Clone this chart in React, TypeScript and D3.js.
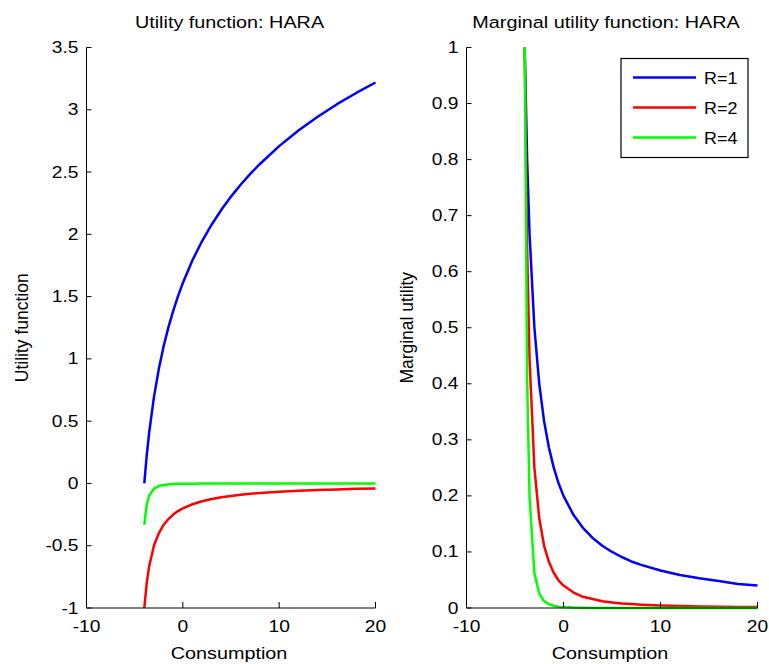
import React from "react";
import * as d3 from "d3";

// Consumption grid
const cons = [-4, -3.75, -3.5, -3, -2.5, -2, -1.5, -1, -0.5, 0, 1, 2, 3, 4, 5, 6, 7, 8, 10, 12, 14, 16, 18, 20];

// Utility function values
const utilR1 = [0, 0.223, 0.405, 0.693, 0.916, 1.099, 1.253, 1.386, 1.504, 1.609, 1.792, 1.946, 2.079, 2.197, 2.303, 2.398, 2.485, 2.565, 2.708, 2.833, 2.944, 3.045, 3.135, 3.219];
const utilR2 = [-1, -0.8, -0.667, -0.5, -0.4, -0.333, -0.286, -0.25, -0.222, -0.2, -0.167, -0.143, -0.125, -0.111, -0.1, -0.091, -0.083, -0.077, -0.067, -0.059, -0.053, -0.048, -0.043, -0.04];
const utilR4 = [-0.333, -0.171, -0.099, -0.042, -0.021, -0.012, -0.008, -0.005, -0.003, -0.003, -0.0015, -0.001, -0.0007, -0.0005, -0.0003, -0.0002, -0.0002, -0.0001, -0.0001, 0, 0, 0, 0, 0];

// Marginal utility values
const margR1 = [1, 0.8, 0.667, 0.5, 0.4, 0.333, 0.286, 0.25, 0.222, 0.2, 0.167, 0.143, 0.125, 0.111, 0.1, 0.091, 0.083, 0.077, 0.067, 0.059, 0.053, 0.048, 0.043, 0.04];
const margR2 = [1, 0.64, 0.444, 0.25, 0.16, 0.111, 0.082, 0.0625, 0.049, 0.04, 0.028, 0.02, 0.016, 0.012, 0.01, 0.008, 0.007, 0.006, 0.0044, 0.0035, 0.0028, 0.0023, 0.0019, 0.0016];
const margR4 = [1, 0.41, 0.198, 0.0625, 0.0256, 0.0123, 0.0067, 0.0039, 0.0024, 0.0016, 0.0008, 0.0004, 0.0002, 0.0001, 0.0001, 0, 0, 0, 0, 0, 0, 0, 0, 0];

const seriesNames = ["R=1", "R=2", "R=4"];
const seriesColors = ["#0000ff", "#ff0000", "#00ff00"];

const xTicks = [-10, 0, 10, 20];
const yTicksLeft = [-1, -0.5, 0, 0.5, 1, 1.5, 2, 2.5, 3, 3.5];
const yTicksRight = [0, 0.1, 0.2, 0.3, 0.4, 0.5, 0.6, 0.7, 0.8, 0.9, 1];

const FONT = "'Liberation Sans', Arial, sans-serif";
const SX = 1.2;

function Txt({ x, y, size, anchor, sx, children }: { x: number; y: number; size: number; anchor?: string; sx?: number; children: React.ReactNode }) {
  return (
    <text
      transform={`translate(${x},${y}) scale(${sx ?? SX},1)`}
      textAnchor={anchor || "start"}
      fontSize={size}
      fontFamily={FONT}
      fill="#000"
    >
      {children}
    </text>
  );
}

type PanelProps = {
  x0: number;
  x1: number;
  yDomain: [number, number];
  yTicks: number[];
  series: number[][];
  title: string;
  titleX: number;
  ylabel: string;
  ylabelX: number;
  legend?: boolean;
};

function Panel({ x0, x1, yDomain, yTicks, series, title, titleX, ylabel, ylabelX, legend }: PanelProps) {
  const top = 47.5;
  const bottom = 608;
  const xs = d3.scaleLinear().domain([-10, 20]).range([x0, x1]);
  const ys = d3.scaleLinear().domain(yDomain).range([bottom, top]);
  const line = d3
    .line<[number, number]>()
    .x((d) => xs(d[0]))
    .y((d) => ys(d[1]));
  const fmt = (v: number) => String(v);
  return (
    <g>
      {series.map((vals, i) => (
        <path
          key={i}
          d={line(cons.map((c, j) => [c, vals[j]] as [number, number])) || ""}
          fill="none"
          stroke={seriesColors[i]}
          strokeWidth={2.5}
          strokeLinejoin="round"
        />
      ))}
      {/* axes */}
      <line x1={x0} x2={x0} y1={top} y2={bottom} stroke="#000" strokeWidth={1} />
      <line x1={x0} x2={x1} y1={bottom} y2={bottom} stroke="#000" strokeWidth={1} />
      {yTicks.map((t) => (
        <g key={"y" + t}>
          <line x1={x0} x2={x0 + 5} y1={ys(t)} y2={ys(t)} stroke="#000" strokeWidth={1} />
          <Txt x={x0 - 8} y={ys(t) + 5.5} size={16} anchor="end">
            {fmt(t)}
          </Txt>
        </g>
      ))}
      {xTicks.map((t) => (
        <g key={"x" + t}>
          <line x1={xs(t)} x2={xs(t)} y1={bottom} y2={bottom - 6} stroke="#000" strokeWidth={1} />
          <Txt x={xs(t)} y={631.5} size={16} anchor="middle">
            {fmt(t)}
          </Txt>
        </g>
      ))}
      <Txt x={(x0 + x1) / 2 - 2} y={659} size={16.5} anchor="middle">
        Consumption
      </Txt>
      <Txt x={titleX} y={28} size={16.5} anchor="middle">
        {title}
      </Txt>
      <text
        transform={`translate(${ylabelX},${(top + bottom) / 2}) rotate(-90) scale(1,1.1)`}
        textAnchor="middle"
        fontSize={17.5}
        fontFamily={FONT}
        fill="#000"
      >
        {ylabel}
      </text>
      {legend && (
        <g>
          <rect x={621} y={58.5} width={127} height={99} fill="#fff" stroke="#000" strokeWidth={1.2} />
          {seriesNames.map((n, i) => (
            <g key={n}>
              <line x1={633} x2={696} y1={77.5 + i * 30} y2={77.5 + i * 30} stroke={seriesColors[i]} strokeWidth={2.5} />
              <Txt x={704} y={83.5 + i * 30} size={16} sx={1.12}>
                {n}
              </Txt>
            </g>
          ))}
        </g>
      )}
    </g>
  );
}

export default function App() {
  return (
    <svg width={769} height={664} style={{ display: "block", position: "absolute", left: 0, top: 0, background: "#fff" }}>
      <rect x={0} y={0} width={769} height={664} fill="#fff" />
      <Panel
        x0={86.5}
        x1={375.5}
        yDomain={[-1, 3.5]}
        yTicks={yTicksLeft}
        series={[utilR1, utilR2, utilR4]}
        title="Utility function: HARA"
        titleX={229.5}
        ylabel="Utility function"
        ylabelX={28}
      />
      <Panel
        x0={466.5}
        x1={757.5}
        yDomain={[0, 1]}
        yTicks={yTicksRight}
        series={[margR1, margR2, margR4]}
        title="Marginal utility function: HARA"
        titleX={606}
        ylabel="Marginal utility"
        ylabelX={413}
        legend
      />
    </svg>
  );
}
